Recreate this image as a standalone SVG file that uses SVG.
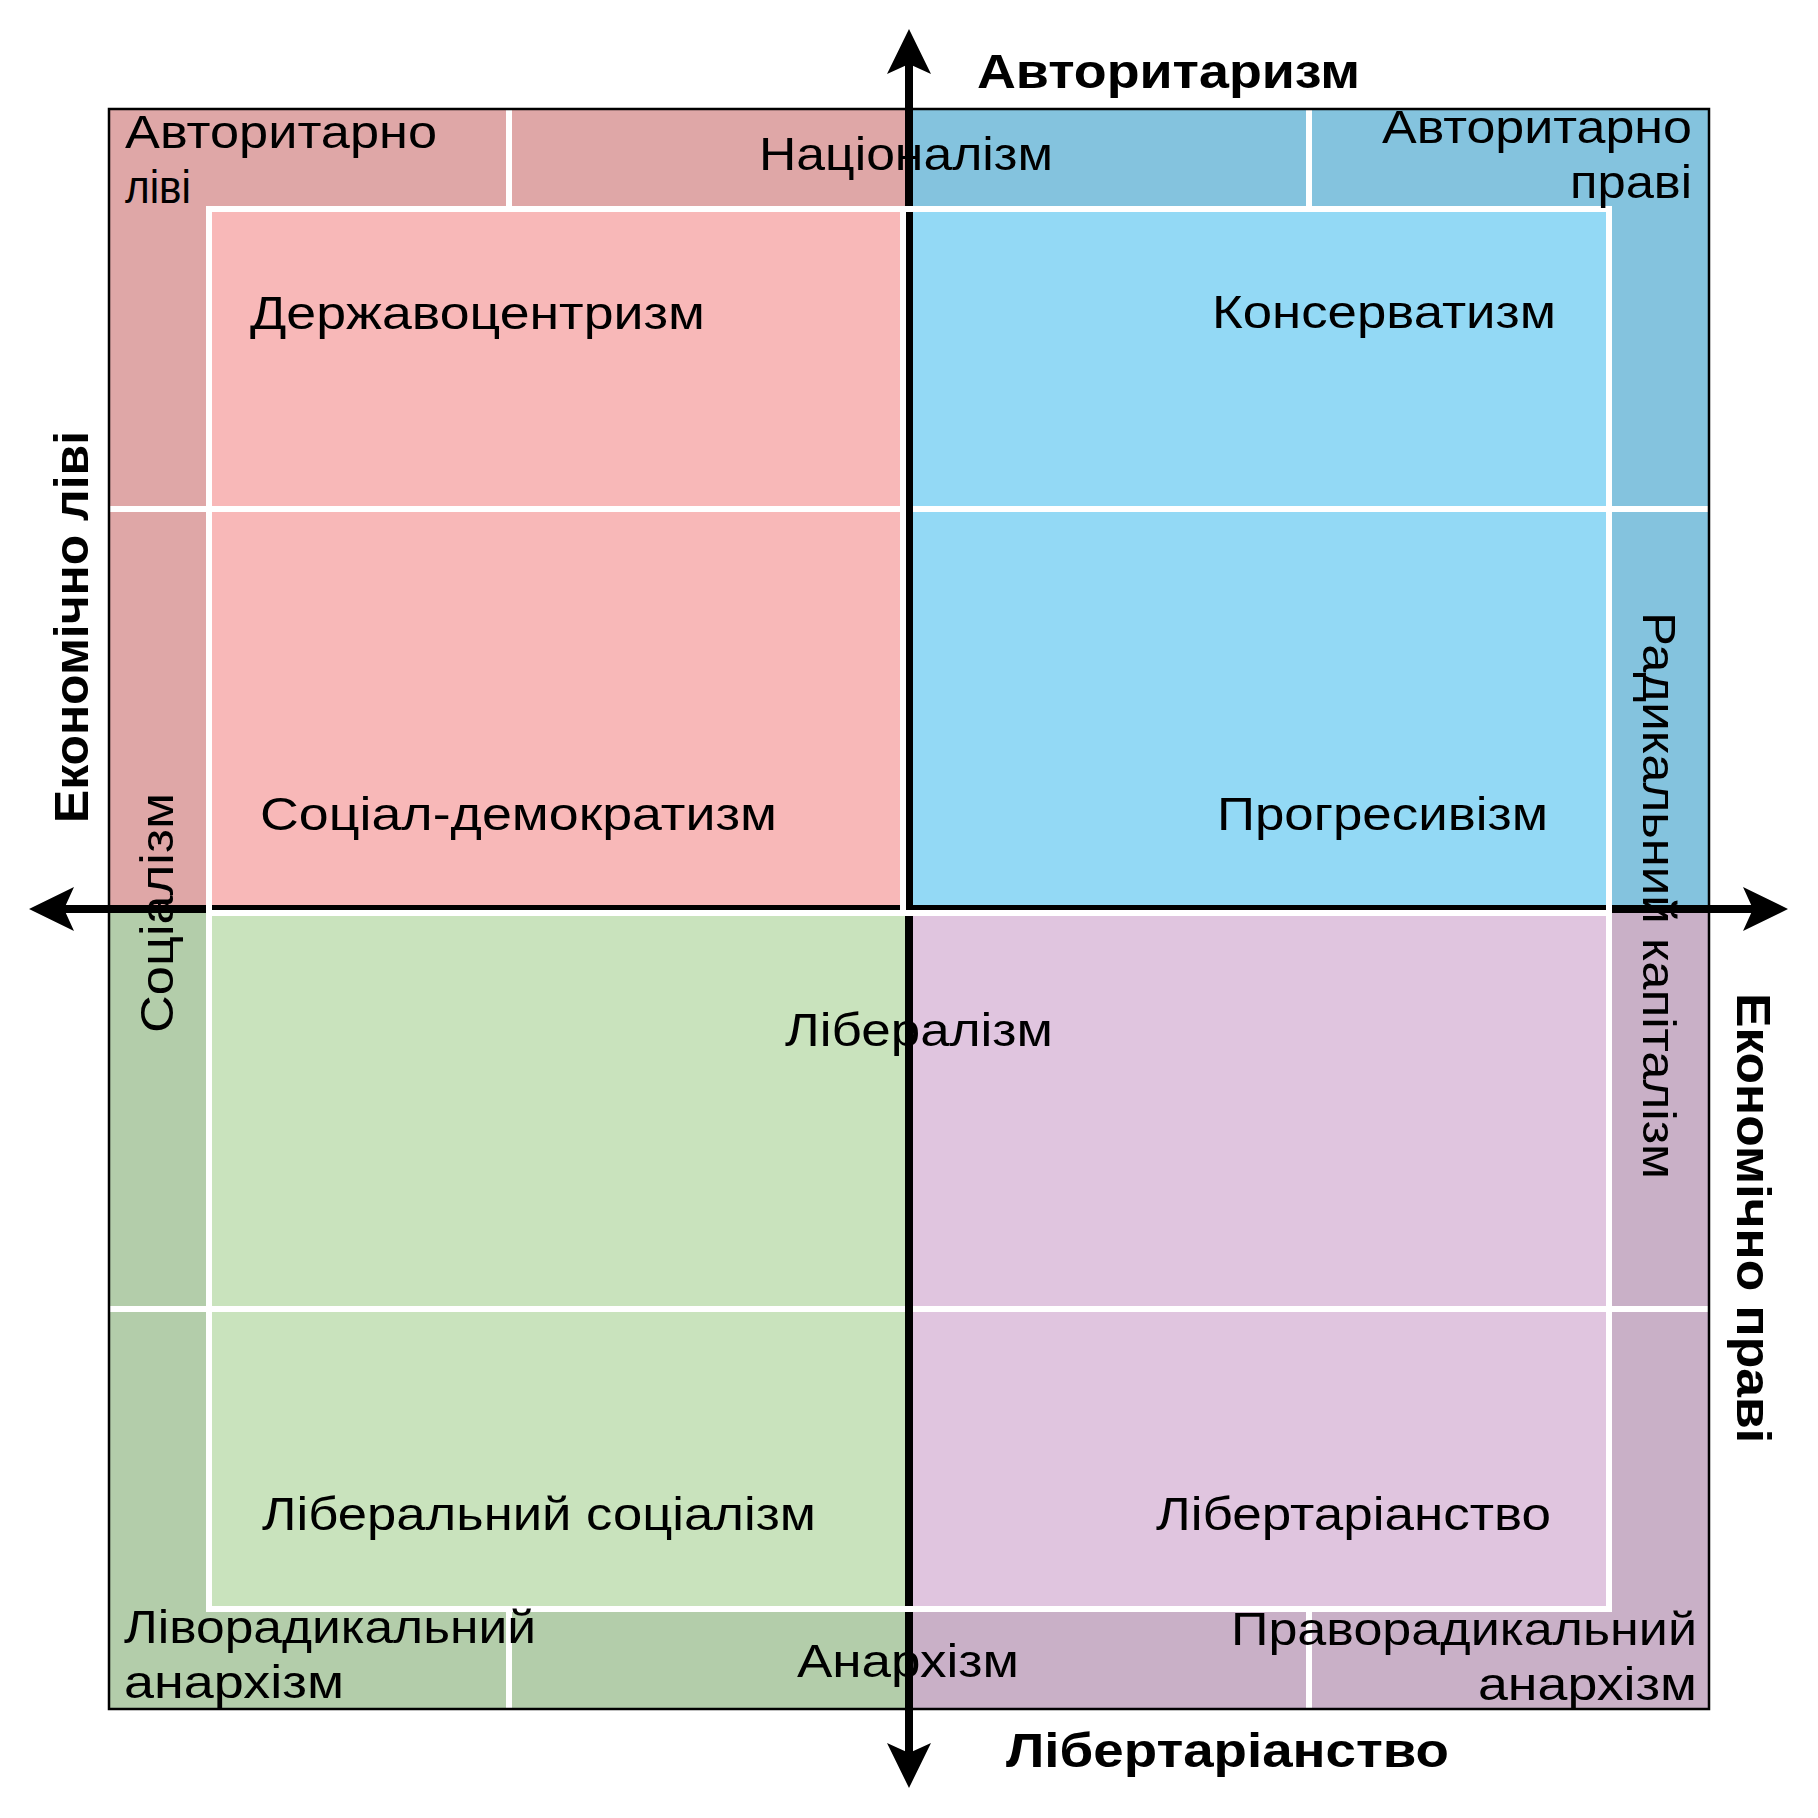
<svg xmlns="http://www.w3.org/2000/svg" width="1818" height="1818" viewBox="0 0 1818 1818">
<style>
.t{font-family:"Liberation Sans","DejaVu Sans",sans-serif;font-size:47px;fill:#000}
.b{font-weight:bold;font-size:48px}
.w{stroke:#fff;stroke-width:6;fill:none}
.ax{stroke:#000;stroke-width:8;fill:none}
</style>
<defs>
<path id="ah" d="M0,0 L-45,-22 L-35,0 L-45,22 Z" fill="#000"/>
</defs>
<rect width="1818" height="1818" fill="#fff"/>
<g id="quadrant-tl">
<rect x="109" y="109" width="800" height="800" fill="#dfa7a7"/>
<rect x="209" y="209" width="700" height="700" fill="#f8b8b8"/>
</g>
<g id="quadrant-tr">
<rect x="909" y="109" width="800" height="800" fill="#84c3de"/>
<rect x="909" y="209" width="700" height="700" fill="#93d9f5"/>
</g>
<g id="quadrant-bl">
<rect x="109" y="909" width="800" height="800" fill="#b3cdaa"/>
<rect x="209" y="909" width="700" height="700" fill="#c9e3bd"/>
</g>
<g id="quadrant-br">
<rect x="909" y="909" width="800" height="800" fill="#c9b0c7"/>
<rect x="909" y="909" width="700" height="700" fill="#e0c5df"/>
</g>
<g id="grid">
<line class="w" x1="109" y1="509" x2="1709" y2="509"/>
<line class="w" x1="109" y1="1309" x2="1709" y2="1309"/>
<line class="w" x1="509" y1="109" x2="509" y2="209"/>
<line class="w" x1="1309" y1="109" x2="1309" y2="209"/>
<line class="w" x1="509" y1="1609" x2="509" y2="1709"/>
<line class="w" x1="1309" y1="1609" x2="1309" y2="1709"/>
</g>
<g id="connectors">
<line class="ax" x1="60" y1="909" x2="1757" y2="909"/>
<line class="ax" x1="909" y1="60" x2="909" y2="1757"/>
<use href="#ah" transform="translate(1788,909)"/>
<use href="#ah" transform="translate(29,909) rotate(180)"/>
<use href="#ah" transform="translate(909,29) rotate(-90)"/>
<use href="#ah" transform="translate(909,1788) rotate(90)"/>
</g>
<g id="inner-borders">
<rect class="w" x="209" y="209" width="1400" height="1400"/>
<line class="w" x1="209" y1="913" x2="1609" y2="913"/>
<line class="w" x1="903" y1="209" x2="903" y2="910"/>
</g>
<rect id="frame" x="109" y="109" width="1600" height="1600" fill="none" stroke="#000" stroke-width="2.5"/>
<g id="labels">
<text class="t"><tspan x="125" y="148" textLength="312" lengthAdjust="spacingAndGlyphs">Авторитарно</tspan><tspan x="125" y="203" textLength="66" lengthAdjust="spacingAndGlyphs">ліві</tspan></text>
<text class="t" x="759" y="170" textLength="294" lengthAdjust="spacingAndGlyphs">Націоналізм</text>
<text class="t"><tspan x="1382" y="143" textLength="310" lengthAdjust="spacingAndGlyphs">Авторитарно</tspan><tspan x="1570" y="198" textLength="122" lengthAdjust="spacingAndGlyphs">праві</tspan></text>
<text class="t b" x="977" y="88" textLength="383" lengthAdjust="spacingAndGlyphs">Авторитаризм</text>
<text class="t" x="250" y="329" textLength="455" lengthAdjust="spacingAndGlyphs">Державоцентризм</text>
<text class="t" x="1212" y="328" textLength="344" lengthAdjust="spacingAndGlyphs">Консерватизм</text>
<text class="t" x="260" y="830" textLength="517" lengthAdjust="spacingAndGlyphs">Соціал-демократизм</text>
<text class="t" x="1217" y="830" textLength="331" lengthAdjust="spacingAndGlyphs">Прогресивізм</text>
<text class="t" x="785" y="1046" textLength="268" lengthAdjust="spacingAndGlyphs">Лібералізм</text>
<text class="t" x="262" y="1530" textLength="554" lengthAdjust="spacingAndGlyphs">Ліберальний соціалізм</text>
<text class="t" x="1156" y="1530" textLength="395" lengthAdjust="spacingAndGlyphs">Лібертаріанство</text>
<text class="t"><tspan x="124" y="1643" textLength="412" lengthAdjust="spacingAndGlyphs">Ліворадикальний</tspan><tspan x="124" y="1698" textLength="220" lengthAdjust="spacingAndGlyphs">анархізм</tspan></text>
<text class="t" x="797" y="1677" textLength="222" lengthAdjust="spacingAndGlyphs">Анархізм</text>
<text class="t"><tspan x="1231" y="1645" textLength="466" lengthAdjust="spacingAndGlyphs">Праворадикальний</tspan><tspan x="1478" y="1700" textLength="219" lengthAdjust="spacingAndGlyphs">анархізм</tspan></text>
<text class="t b" x="1006" y="1767" textLength="443" lengthAdjust="spacingAndGlyphs">Лібертаріанство</text>
<text class="t b" transform="translate(88,823) rotate(-90)" x="0" y="0" textLength="392" lengthAdjust="spacingAndGlyphs">Економічно ліві</text>
<text class="t b" transform="translate(1737,993) rotate(90)" x="0" y="0" textLength="450" lengthAdjust="spacingAndGlyphs">Економічно праві</text>
<text class="t" transform="translate(173,1033) rotate(-90)" x="0" y="0" textLength="240" lengthAdjust="spacingAndGlyphs">Соціалізм</text>
<text class="t" transform="translate(1643,612) rotate(90)" x="0" y="0" textLength="567" lengthAdjust="spacingAndGlyphs">Радикальний капіталізм</text>
</g>
</svg>
